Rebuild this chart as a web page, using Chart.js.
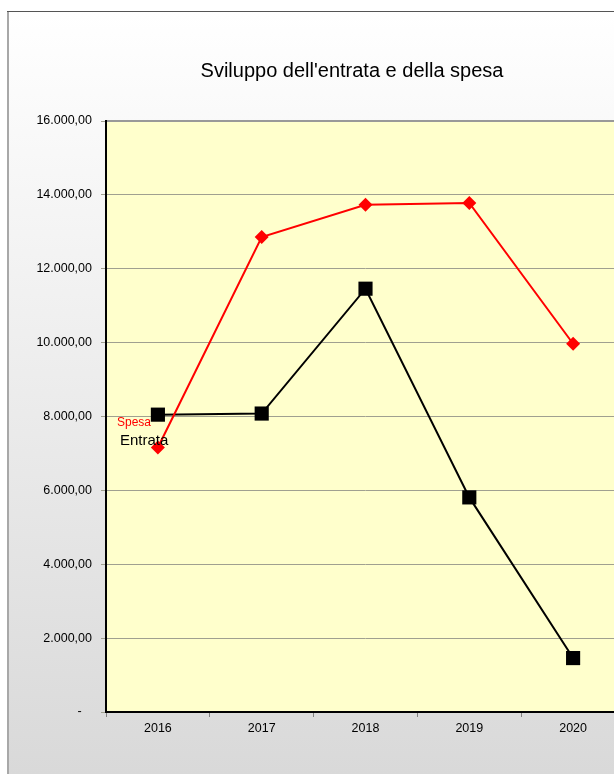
<!DOCTYPE html>
<html>
<head>
<meta charset="utf-8">
<script src="https://cdn.jsdelivr.net/npm/chart.js@4"></script>
<style>
  html, body { margin: 0; padding: 0; background: #fff; overflow: hidden; }
  #wrap { width: 614px; height: 774px; overflow: hidden; }
</style>
</head>
<body>
<div id="wrap"><canvas id="grafico" width="640" height="774"></canvas></div>
<script>
const anni = ['2016', '2017', '2018', '2019', '2020'];
const spesa = [7160, 12860, 13730, 13780, 9970];
const entrata = [8050, 8080, 11460, 5810, 1460];
const titolo = "Sviluppo dell'entrata e della spesa";

function formatoEuro(v) {
    if (v === 0) return '-   ';
    return v.toLocaleString('de-DE', { minimumFractionDigits: 2, maximumFractionDigits: 2 });
}

const sfondo = {
    id: 'sfondo',
    beforeDraw(chart) {
        const ctx = chart.ctx;
        const a = chart.chartArea;
        ctx.save();
        const g = ctx.createLinearGradient(0, 12, 0, 774);
        g.addColorStop(0, '#ffffff');
        g.addColorStop(1, '#d9d9d9');
        ctx.fillStyle = g;
        ctx.fillRect(7, 11, 640, 774);
        // cornice esterna
        ctx.fillStyle = '#a8a8a8';
        ctx.fillRect(7, 11, 2, 780);
        ctx.fillStyle = '#555555';
        ctx.fillRect(7, 11, 640, 1);
        ctx.fillStyle = '#ffffcc';
        ctx.fillRect(a.left, a.top, a.right - a.left, a.bottom - a.top);
        ctx.restore();
    },
    afterDatasetsDraw(chart) {
        const ctx = chart.ctx;
        const a = chart.chartArea;
        ctx.save();
        ctx.fillStyle = '#999999';
        ctx.fillRect(a.left, a.top - 1, a.right - a.left, 2);
        ctx.fillStyle = '#000';
        ctx.fillRect(a.left - 1, a.top - 1, 2, a.bottom - a.top + 2);
        ctx.fillRect(a.left - 1, a.bottom - 1, a.right - a.left + 2, 2);
        ctx.font = '20px "Liberation Sans", Arial, sans-serif';
        ctx.textAlign = 'center';
        ctx.textBaseline = 'middle';
        ctx.fillText(titolo, 352, 71);
        ctx.textAlign = 'left';
        ctx.fillStyle = '#ff0000';
        ctx.font = '12px "Liberation Sans", Arial, sans-serif';
        ctx.fillText('Spesa', 117, 423);
        ctx.fillStyle = '#000';
        ctx.font = '15px "Liberation Sans", Arial, sans-serif';
        ctx.fillText('Entrata', 120, 441);
        ctx.restore();
    }
};

new Chart(document.getElementById('grafico'), {
    type: 'line',
    data: {
        labels: anni,
        datasets: [{
            label: 'Spesa',
            data: spesa,
            borderColor: '#ff0000',
            backgroundColor: '#ff0000',
            borderWidth: 2,
            pointStyle: 'rectRot',
            pointRadius: 7,
            pointBorderWidth: 0,
            tension: 0
        }, {
            label: 'Entrata',
            data: entrata,
            borderColor: '#000000',
            backgroundColor: '#000000',
            borderWidth: 2,
            pointStyle: 'rect',
            pointRadius: 10,
            pointBorderWidth: 0,
            tension: 0
        }]
    },
    options: {
        responsive: false,
        animation: false,
        layout: { padding: { left: 0, top: 121, right: 15, bottom: 0 } },
        plugins: {
            legend: { display: false },
            title: { display: false },
            tooltip: { enabled: false }
        },
        scales: {
            x: {
                offset: true,
                grid: { offset: true, drawOnChartArea: false, drawTicks: true, tickLength: 5, color: '#808080' },
                border: { display: false },
                ticks: { color: '#000', font: { family: '"Liberation Sans", Arial, sans-serif', size: 12.5 }, padding: 4 },
                afterFit(s) { s.height = 62; }
            },
            y: {
                min: 0,
                max: 16000,
                grid: { color: '#a0a090', tickLength: 5, drawTicks: true },
                border: { display: false },
                ticks: {
                    stepSize: 2000,
                    color: '#000',
                    padding: 9,
                    font: { family: '"Liberation Sans", Arial, sans-serif', size: 12.5 },
                    callback: v => formatoEuro(v)
                },
                afterFit(s) { s.width = 106; }
            }
        }
    },
    plugins: [sfondo]
});
</script>
</body>
</html>
